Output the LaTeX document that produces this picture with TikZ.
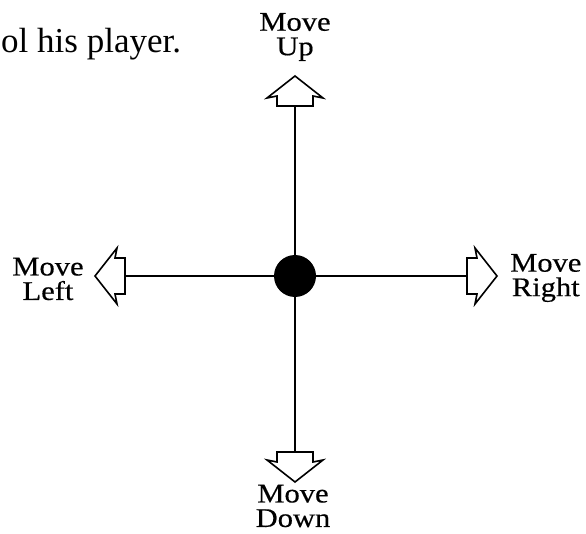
\documentclass[tikz,border=0pt]{standalone}
\usepackage{fontspec}
\newfontfamily\timesfont{Liberation Serif}
\newfontfamily\lblfont{Liberation Serif}[FakeBold=0.4]
\tikzset{
  stem/.style={line width=1.8pt},
  arrowline/.style={line width=1.6pt, fill=white, line join=miter},
  lbl/.style={font=\lblfont\fontsize{27}{24.5}\selectfont, align=center, inner sep=0pt},
  bigarrow/.pic={\draw[arrowline] (0,-18) -- (10,-18) -- (8,-28) -- (30,0) -- (8,28) -- (10,18) -- (0,18) -- cycle;}
}
\newcommand{\widetxt}[1]{\scalebox{1.13}[1]{#1}}
\begin{document}
\begin{tikzpicture}[x=1pt,y=-1pt]
\useasboundingbox (0,0) rectangle (586,534);
\node[anchor=base west, inner sep=0pt, font=\timesfont\fontsize{35}{40}\selectfont] (sentence) at (1,53) {ol his player.};
\node[circle, fill=black, minimum size=42pt, inner sep=0pt] (ball) at (295,276) {};
\coordinate (upbase) at (295,106);
\coordinate (downbase) at (295,452);
\coordinate (leftbase) at (125,276);
\coordinate (rightbase) at (467,276);
\draw[stem] (ball) -- (upbase);
\draw[stem] (ball) -- (downbase);
\draw[stem] (ball) -- (leftbase);
\draw[stem] (ball) -- (rightbase);
\pic[rotate=90] at (upbase) {bigarrow};
\pic[rotate=-90] at (downbase) {bigarrow};
\pic[rotate=180] at (leftbase) {bigarrow};
\pic at (rightbase) {bigarrow};
\node[lbl] (uplbl) at (295,37) {\widetxt{Move}\\\widetxt{Up}};
\node[lbl] (downlbl) at (293,506) {\widetxt{Move}\\\widetxt{Down}};
\node[lbl] (leftlbl) at (48,279) {\widetxt{Move}\\\widetxt{Left}};
\node[lbl, anchor=west] (rightlbl) at (510,278) {\widetxt{Move}\\\widetxt{Right}};
\end{tikzpicture}
\end{document}
